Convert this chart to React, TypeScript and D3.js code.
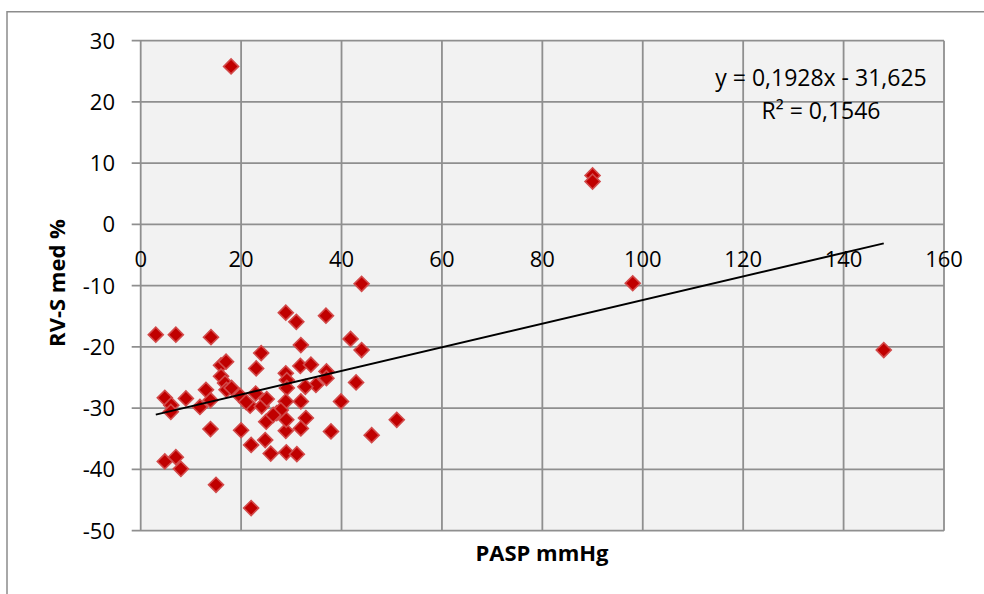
import * as React from "react";
import * as d3 from "d3";

// PASP (mmHg) vs RV-S med (%)
const pasp = [
  3, 7, 14, 24, 23, 16, 17, 16, 16.8, 17.1, 18.1, 13, 13.9, 11.8, 9, 4.8, 6.1, 6,
  13.9, 20, 22.9, 21.8, 24.1, 25.1, 19.8, 21, 22, 25, 24.8, 4.8, 7, 8, 15, 22,
  27.1, 25.9, 28.9, 31, 36.9, 31.9, 41.8, 44, 28.9, 31.8, 33.9, 37, 37, 42.9,
  34.9, 32.8, 29.1, 29.1, 39.9, 31.9, 28.9, 27.9, 32.9, 31.9, 28.9, 37.9, 46,
  51, 29, 26.4, 29, 31.1, 44, 18, 90, 90, 98, 148
];
const rvs = [
  -18, -18, -18.4, -21, -23.5, -23, -22.4, -24.8, -25.9, -27, -26.7, -27, -28.7,
  -29.8, -28.4, -28.3, -29.5, -30.6, -33.4, -33.6, -27.6, -29.6, -29.7, -28.5,
  -28, -29, -36, -32.2, -35.2, -38.7, -38, -39.9, -42.5, -46.3, -30.8, -37.4,
  -14.4, -15.9, -14.9, -19.7, -18.7, -20.5, -24.3, -23.1, -22.9, -24, -25.1,
  -25.8, -26.2, -26.5, -25.4, -26.7, -28.9, -28.9, -28.9, -30.3, -31.6, -33.3,
  -33.7, -33.8, -34.4, -31.9, -31.9, -31.1, -37.2, -37.5, -9.7, 25.8, 8, 7,
  -9.6, -20.5
];

const xTicks = [0, 20, 40, 60, 80, 100, 120, 140, 160];
const yTicks = [30, 20, 10, 0, -10, -20, -30, -40, -50];

const slope = 0.1928;
const intercept = -31.625;
const eqText = "y = 0,1928x - 31,625";
const r2Text = "R² = 0,1546";

const font = "'Open Sans', sans-serif";

export default function App() {
  const W = 984, H = 594;
  const x = d3.scaleLinear().domain([0, 160]).range([140.7, 944]);
  const y = d3.scaleLinear().domain([-50, 30]).range([530.7, 40.7]);

  const diamond = d3.symbol().type(d3.symbolSquare).size(112)() as string;

  const [x0, x1] = d3.extent(pasp) as [number, number];
  const trend = d3.line<number>()
    .x(d => x(d))
    .y(d => y(slope * d + intercept))([x0, x1]) as string;

  const gridColor = "#8f8f8f";

  return (
    <svg width={W} height={H} style={{ position: "absolute", left: 0, top: 0 }}
      fontFamily={font}>
      <rect width={W} height={H} fill="#fff" />
      {/* chart frame */}
      <path d={`M7,${H} V11.7 H${W}`} fill="none" stroke="#8c8c8c" strokeWidth={1.5} />

      <rect x={x(0)} y={y(30)} width={x(160) - x(0)} height={y(-50) - y(30)} fill="#f2f2f2" />

      {/* grid */}
      {yTicks.map(t => (
        <line key={"gy" + t} x1={x(0) - 9} x2={x(160)} y1={y(t)} y2={y(t)}
          stroke={gridColor} strokeWidth={1.8} />
      ))}
      {xTicks.map(t => (
        <line key={"gx" + t} x1={x(t)} x2={x(t)} y1={y(30)} y2={y(-50)}
          stroke={gridColor} strokeWidth={1.8} />
      ))}

      {/* y tick labels */}
      {yTicks.map(t => (
        <text key={"ly" + t} x={115} y={y(t) + 8} textAnchor="end" fontSize={22} fill="#000">
          {t}
        </text>
      ))}
      {/* x tick labels (axis crosses at 0) */}
      {xTicks.map(t => (
        <text key={"lx" + t} x={x(t)} y={y(0) + 43} textAnchor="middle" fontSize={22} fill="#000">
          {t}
        </text>
      ))}

      {/* points */}
      {pasp.map((p, i) => (
        <path key={"p" + i} d={diamond}
          transform={`translate(${x(p)},${y(rvs[i])}) rotate(45)`}
          fill="#c00000" stroke="#d24a4a" strokeWidth={1.6} />
      ))}

      {/* trendline */}
      <path d={trend} fill="none" stroke="#000" strokeWidth={2} />

      <text x={821} y={85.5} textAnchor="middle" fontSize={23}>{eqText}</text>
      <text x={821} y={119} textAnchor="middle" fontSize={23}>{r2Text}</text>

      <text transform={`translate(65,283) rotate(-90)`} textAnchor="middle"
        fontSize={22} fontWeight="bold">RV-S med %</text>
      <text x={542} y={561} textAnchor="middle" fontSize={22} fontWeight="bold">PASP mmHg</text>
    </svg>
  );
}
